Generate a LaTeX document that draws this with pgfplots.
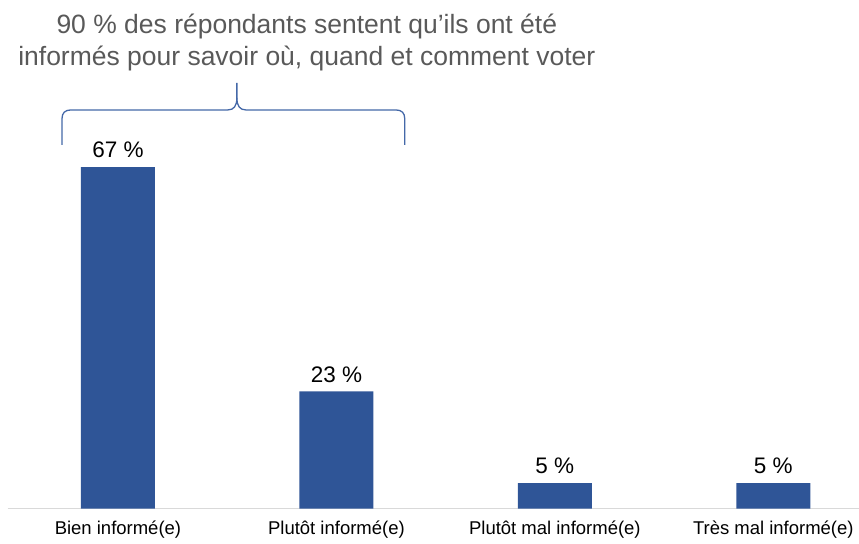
\documentclass[border=0pt]{standalone}
\usepackage{pgfplots}
\pgfplotsset{compat=1.18}
\usepackage{fontspec}
\setmainfont{Liberation Sans}
\definecolor{barblue}{HTML}{2F5597}
\definecolor{bracecol}{HTML}{4468A8}
\definecolor{titlegray}{HTML}{595959}
\definecolor{basegray}{HTML}{D9D9D9}
\begin{document}
\begin{tikzpicture}
\begin{axis}[
    name=ax,
    scale only axis,
    width=859pt, height=509pt,
    xmin=-0.54, xmax=3.39,
    ymin=0, ymax=99.8,
    axis x line*=bottom,
    x axis line style={draw=none},
    hide y axis,
    major tick length=0pt,
    ybar,
    bar width=74pt,
    xtick=data,
    xticklabels={Bien informé(e), Plutôt informé(e), Plutôt mal informé(e), Très mal informé(e)},
    xticklabel style={font=\fontsize{18.5}{20}\selectfont, yshift=-9pt},
    nodes near coords={\pgfmathprintnumber{\pgfplotspointmeta} \%},
    nodes near coords style={font=\fontsize{22.5}{24}\selectfont, anchor=south, inner sep=0pt, yshift=9pt,
        /pgf/number format/assume math mode=true},
    clip=false,
]
\draw[basegray, line width=1pt] (axis cs:-0.505,0) -- (axis cs:3.39,0);
\addplot[fill=barblue, draw=none] coordinates {
    (0, 67)
    (1, 23)
    (2, 5)
    (3, 5)
};
\end{axis}
% title and brace, in pixel units from the top left of the axis
\begin{scope}[shift={(ax.north west)}, x=1pt, y=-1pt]
\node[text=titlegray, align=center, font=\fontsize{26.5}{32}\selectfont] at (307,43)
    {90 \% des répondants sentent qu’ils ont été\\informés pour savoir où, quand et comment voter};
\draw[bracecol, line width=1.3pt]
    (62,145) -- (62,119) .. controls (62,113) and (65,110) .. (71,110) -- (228,110)
    .. controls (234,110) and (237,106) .. (237,98) -- (237,83);
\draw[bracecol, line width=1.3pt]
    (405,145) -- (405,119) .. controls (405,113) and (402,110) .. (396,110) -- (246,110)
    .. controls (240,110) and (237,106) .. (237,98);
\path (0,0) (0,544);
\end{scope}
\end{tikzpicture}
\end{document}
